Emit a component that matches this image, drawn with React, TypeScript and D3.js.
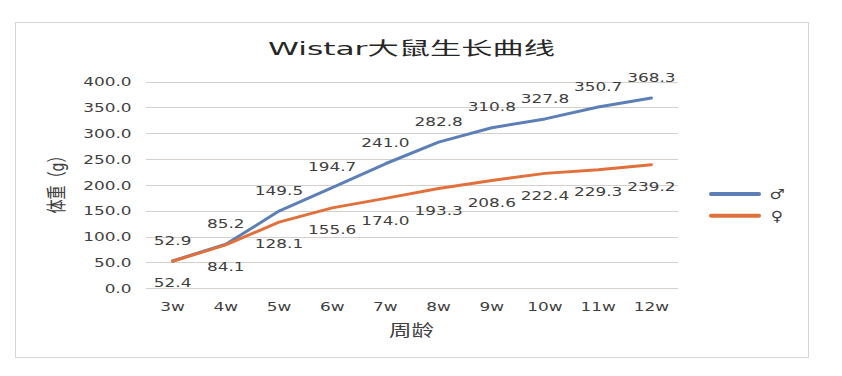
import React from "react";
import * as d3 from "d3";

const categories = ["3w", "4w", "5w", "6w", "7w", "8w", "9w", "10w", "11w", "12w"];
const maleValues = [52.9, 85.2, 149.5, 194.7, 241.0, 282.8, 310.8, 327.8, 350.7, 368.3];
const femaleValues = [52.4, 84.1, 128.1, 155.6, 174.0, 193.3, 208.6, 222.4, 229.3, 239.2];
const yTicks = [0, 50, 100, 150, 200, 250, 300, 350, 400];
const seriesNames = ["♂", "♀"];
const titleText = "Wistar大鼠生长曲线";
const yTitle = "体重（g）";
const xTitle = "周龄";

const W = 842;
const H = 376;
const SX = 1.3;
const MALE = "#5B7FB6";
const FEMALE = "#E2703A";
const TEXT = "#404040";
const FONT = "'DejaVu Sans', 'Noto Sans CJK SC', sans-serif";

export default function App() {
  const x = d3.scaleBand<string>().domain(categories).range([146, 678]);
  const y = d3.scaleLinear().domain([0, 400]).range([288.3, 81.6]);
  const cx = (c: string) => (x(c) as number) + x.bandwidth() / 2;
  const line = d3
    .line<number>()
    .x((_, i) => cx(categories[i]))
    .y((v) => y(v));

  const series = [
    { name: seriesNames[0], values: maleValues, color: MALE, dy: -16.3 },
    { name: seriesNames[1], values: femaleValues, color: FEMALE, dy: 26.2 },
  ];

  return (
    <svg
      width={W}
      height={H}
      style={{ position: "absolute", left: 0, top: 0, background: "#fff" }}
      fontFamily={FONT}
    >
      <rect x={0} y={0} width={W} height={H} fill="#fff" />
      <rect x={15.5} y={22.5} width={793} height={335} fill="#fff" stroke="#d9d6d3" strokeWidth={1} />

      <text
        x={411.5}
        y={55}
        textAnchor="middle"
        fontSize={18.5}
        fill="#262626"
        textLength={287}
        lengthAdjust="spacingAndGlyphs"
      >
        {titleText}
      </text>

      {yTicks.map((t) => (
        <g key={t}>
          <line x1={146} x2={678} y1={Math.round(y(t)) + 0.5} y2={Math.round(y(t)) + 0.5} stroke="#d5d0cc" strokeWidth={1.2} />
          <text
            transform={`translate(131.5,${y(t) + 4.7}) scale(${SX},1)`}
            textAnchor="end"
            fontSize={13}
            fill={TEXT}
          >
            {t.toFixed(1)}
          </text>
        </g>
      ))}

      {categories.map((c) => (
        <text
          key={c}
          transform={`translate(${cx(c)},${310.7}) scale(${SX},1)`}
          textAnchor="middle"
          fontSize={13}
          fill={TEXT}
        >
          {c}
        </text>
      ))}

      <text
        transform={`translate(64,181) rotate(-90) scale(1,1.35)`}
        textAnchor="middle"
        fontSize={15}
        fill={TEXT}
        textLength={65}
        lengthAdjust="spacingAndGlyphs"
      >
        {yTitle}
      </text>
      <text
        x={411.5}
        y={335.5}
        textAnchor="middle"
        fontSize={15.5}
        fill={TEXT}
        textLength={45}
        lengthAdjust="spacingAndGlyphs"
      >
        {xTitle}
      </text>

      {series.map((s) => (
        <path
          key={s.name}
          d={line(s.values) as string}
          fill="none"
          stroke={s.color}
          strokeWidth={3}
          strokeLinejoin="round"
          strokeLinecap="round"
        />
      ))}

      {series.map((s) =>
        s.values.map((v, i) => (
          <text
            key={s.name + i}
            transform={`translate(${cx(categories[i])},${y(v) + s.dy}) scale(${SX},1)`}
            textAnchor="middle"
            fontSize={13}
            fill={TEXT}
          >
            {v.toFixed(1)}
          </text>
        ))
      )}

      {series.map((s, i) => {
        const ly = 194 + i * 21.7;
        return (
          <g key={"leg" + s.name}>
            <line x1={711} x2={759} y1={ly} y2={ly} stroke={s.color} strokeWidth={4} strokeLinecap="round" />
            <text
              transform={`translate(777,${ly + 5}) scale(1.2,1)`}
              textAnchor="middle"
              fontSize={14}
              fill={TEXT}
            >
              {s.name}
            </text>
          </g>
        );
      })}
    </svg>
  );
}
